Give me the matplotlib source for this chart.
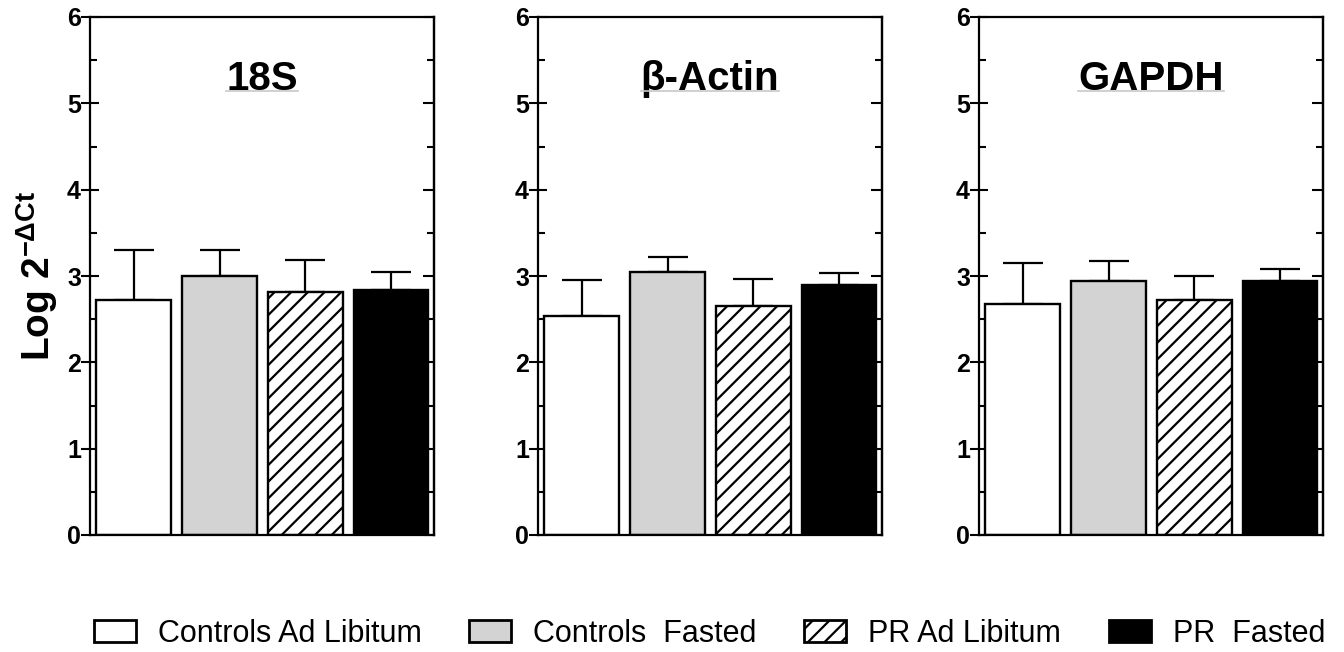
import numpy as np
import matplotlib
matplotlib.use('Agg')
import matplotlib.pyplot as plt
from matplotlib.ticker import MultipleLocator
from matplotlib.patches import Patch
from matplotlib.lines import Line2D

plt.rcParams['font.family'] = ['Liberation Sans', 'DejaVu Sans']
plt.rcParams['mathtext.fontset'] = 'custom'
plt.rcParams['mathtext.rm'] = 'Liberation Sans'
plt.rcParams['mathtext.bf'] = 'Liberation Sans:bold'
plt.rcParams['mathtext.default'] = 'bf'
plt.rcParams['hatch.linewidth'] = 1.6

# groups and genes
groups = ['Controls Ad Libitum', 'Controls  Fasted', 'PR Ad Libitum', 'PR  Fasted']
genes = ['18S', 'β-Actin', 'GAPDH']

# mean and upper error
mean_18s = [2.72, 3.00, 2.81, 2.84]
err_18s = [0.58, 0.30, 0.37, 0.21]
mean_actin = [2.54, 3.05, 2.65, 2.90]
err_actin = [0.41, 0.17, 0.31, 0.13]
mean_gapdh = [2.68, 2.94, 2.72, 2.94]
err_gapdh = [0.47, 0.23, 0.28, 0.14]

fills = ['white', '#d3d3d3', 'white', 'black']
hatches = [None, None, '//', None]

W, H = 1344, 652
fig = plt.figure(figsize=(W / 100, H / 100), dpi=100)

lefts = [90, 538, 979]
ax_w = 344
bottom_px, top_px = 535, 17

data = [(mean_18s, err_18s), (mean_actin, err_actin), (mean_gapdh, err_gapdh)]
titles = []
axes = []
for i, (m, e) in enumerate(data):
    ax = fig.add_axes([lefts[i] / W, (H - bottom_px) / H, ax_w / W, (bottom_px - top_px) / H])
    x = np.arange(len(m))
    ax.bar(x, m, width=0.87, color=fills, edgecolor='black', linewidth=1.7,
           hatch=hatches, zorder=2)
    ax.errorbar(x, m, yerr=[np.zeros(len(e)), e], fmt='none', ecolor='black',
                elinewidth=1.6, capsize=14.5, capthick=1.6, zorder=1)
    ax.set_xlim(-0.51, 3.5)
    ax.set_ylim(0, 6)
    ax.set_xticks([])
    ax.yaxis.set_major_locator(MultipleLocator(1))
    ax.yaxis.set_minor_locator(MultipleLocator(0.5))
    ax.tick_params(axis='y', which='major', direction='inout', length=13, width=1.5,
                   labelsize=18, pad=0)
    ax.tick_params(axis='y', which='minor', direction='in', length=5, width=1.5)
    for lab in ax.get_yticklabels():
        lab.set_fontweight('bold')
    for s in ax.spines.values():
        s.set_linewidth(1.6)
    sec = ax.secondary_yaxis('right')
    sec.yaxis.set_major_locator(MultipleLocator(1))
    sec.yaxis.set_minor_locator(MultipleLocator(0.5))
    sec.tick_params(which='major', direction='in', length=8, width=1.5, labelright=False)
    sec.tick_params(which='minor', direction='in', length=5, width=1.5)
    sec.spines['right'].set_linewidth(1.6)
    t = ax.text(0.5, 0.86, genes[i], transform=ax.transAxes, ha='center', va='baseline',
                fontsize=29, fontweight='bold')
    titles.append((ax, t))
    axes.append(ax)

axes[0].set_ylabel(r'Log 2$^{-\Delta Ct}$', fontsize=28, fontweight='bold', labelpad=5)

handles = [Patch(facecolor=fills[k], edgecolor='black', linewidth=2, hatch=hatches[k])
           for k in range(4)]
fig.legend(handles, groups, loc='center', bbox_to_anchor=(709.5 / W, 18 / H), ncol=4,
           frameon=False, fontsize=22, handlelength=1.38, handleheight=0.72,
           handletextpad=0.72, columnspacing=1.55, borderpad=0, borderaxespad=0)

# faint underline below each panel title
fig.canvas.draw()
for ax, t in titles:
    bb = t.get_window_extent()
    y = ax.transAxes.transform((0, 0.86))[1] - 1
    fig.add_artist(Line2D([bb.x0, bb.x1], [y, y], transform=None, color='#c8c8c8', lw=1.2))

fig.savefig('out.png', dpi=100)
